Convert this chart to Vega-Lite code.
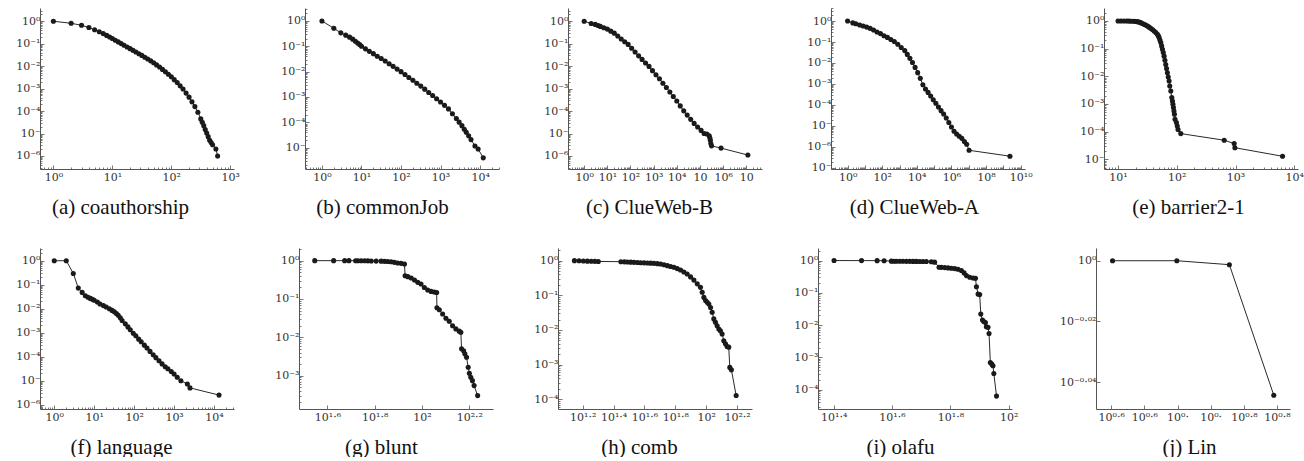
{
"$schema":"https://vega.github.io/schema/vega-lite/v6.json",
"padding":{"left":0,"top":7,"right":0,"bottom":0},
"background":"white",
"params":[
{"name":"supD","value":{"0":"10⁰","1":"10¹","2":"10²","3":"10³","4":"10⁴","5":"10","6":"10⁶","7":"10","8":"10⁸","9":"10⁹","10":"10¹⁰","-1":"10⁻¹","-2":"10⁻²","-3":"10⁻³","-4":"10⁻⁴","-5":"10⁻","-6":"10⁻⁶","-7":"10⁻"}},
{"name":"supF","value":{"1.2":"10¹·²","1.4":"10¹·⁴","1.6":"10¹·⁶","1.8":"10¹·⁸","2":"10²","2.2":"10²·²","0.6":"10⁰·⁶","0.65":"10⁰·⁶","0.7":"10⁰·","0.75":"10⁰·","0.8":"10⁰·⁸","0.85":"10⁰·⁸","0":"10⁰","-0.02":"10⁻⁰·⁰²","-0.04":"10⁻⁰·⁰⁴"}}
],
"config":{
"view":{"stroke":null},
"axis":{"grid":false,"domainColor":"#555","domainWidth":1,"tickColor":"#555","tickWidth":0.8,"labelFont":"DejaVu Serif","labelFontSize":11,"labelColor":"#333","labelPadding":4,"titleFont":"Liberation Serif","titleFontSize":21,"titleFontWeight":"normal","titleColor":"#111","labelOverlap":false,"labelFlush":false},
"axisX":{"titleY":44,"titleBaseline":"alphabetic","labelPadding":6}
},
"datasets":{
"a":[{"x":1,"y":1},{"x":2,"y":0.813},{"x":3,"y":0.661},{"x":4,"y":0.525},{"x":5,"y":0.417},{"x":6,"y":0.339},{"x":7,"y":0.282},{"x":8,"y":0.234},{"x":9,"y":0.2},{"x":10,"y":0.17},{"x":11.2,"y":0.143},{"x":12.6,"y":0.12},{"x":14.1,"y":0.101},{"x":15.8,"y":0.0851},{"x":17.8,"y":0.0716},{"x":20,"y":0.0603},{"x":22.4,"y":0.0507},{"x":25.1,"y":0.0427},{"x":28.2,"y":0.0359},{"x":31.6,"y":0.0302},{"x":35.5,"y":0.0251},{"x":39.8,"y":0.0209},{"x":44.7,"y":0.0172},{"x":50.1,"y":0.0141},{"x":56.2,"y":0.01135},{"x":63.1,"y":0.00912},{"x":70.8,"y":0.00716},{"x":79.4,"y":0.00562},{"x":89.1,"y":0.00437},{"x":100,"y":0.00339},{"x":112,"y":0.00251},{"x":126,"y":0.00186},{"x":141,"y":0.00133},{"x":158,"y":0.000955},{"x":178,"y":0.000631},{"x":200,"y":0.000417},{"x":224,"y":0.000257},{"x":251,"y":0.000158},{"x":282,"y":8.91e-5},{"x":316,"y":4.47e-5},{"x":335,"y":3.16e-5},{"x":355,"y":2.24e-5},{"x":376,"y":1.51e-5},{"x":398,"y":1.05e-5},{"x":422,"y":7.24e-6},{"x":447,"y":5.01e-6},{"x":473,"y":3.98e-6},{"x":501,"y":3.16e-6},{"x":570,"y":2.04e-6},{"x":610,"y":1e-6}],
"b":[{"x":1,"y":1},{"x":2,"y":0.513},{"x":3,"y":0.339},{"x":4,"y":0.275},{"x":5,"y":0.229},{"x":6,"y":0.191},{"x":7,"y":0.158},{"x":8,"y":0.135},{"x":9,"y":0.117},{"x":10,"y":0.1},{"x":12.6,"y":0.0794},{"x":15.8,"y":0.0631},{"x":20,"y":0.0513},{"x":25.1,"y":0.0407},{"x":31.6,"y":0.0331},{"x":39.8,"y":0.0263},{"x":50.1,"y":0.0204},{"x":63.1,"y":0.0162},{"x":79.4,"y":0.0126},{"x":100,"y":0.01},{"x":126,"y":0.00776},{"x":158,"y":0.00589},{"x":200,"y":0.00457},{"x":251,"y":0.00347},{"x":316,"y":0.00269},{"x":398,"y":0.00204},{"x":501,"y":0.00151},{"x":631,"y":0.00115},{"x":794,"y":0.000851},{"x":1000,"y":0.000631},{"x":1259,"y":0.000468},{"x":1585,"y":0.000339},{"x":1995,"y":0.000219},{"x":2512,"y":0.000141},{"x":2951,"y":0.000102},{"x":3467,"y":7.41e-5},{"x":3981,"y":5.37e-5},{"x":4467,"y":4.07e-5},{"x":5129,"y":2.95e-5},{"x":5888,"y":2.09e-5},{"x":7413,"y":1.17e-5},{"x":8913,"y":8.91e-6},{"x":12023,"y":3.98e-6}],
"c":[{"x":1,"y":1},{"x":2,"y":0.794},{"x":3,"y":0.724},{"x":4,"y":0.646},{"x":5,"y":0.589},{"x":7.08,"y":0.513},{"x":10,"y":0.447},{"x":14.1,"y":0.363},{"x":20,"y":0.295},{"x":28.2,"y":0.219},{"x":39.8,"y":0.162},{"x":56.2,"y":0.123},{"x":79.4,"y":0.0933},{"x":112,"y":0.0631},{"x":158,"y":0.0427},{"x":224,"y":0.0288},{"x":316,"y":0.02},{"x":447,"y":0.0138},{"x":631,"y":0.00977},{"x":891,"y":0.00631},{"x":1259,"y":0.00417},{"x":1778,"y":0.00275},{"x":2512,"y":0.00174},{"x":3548,"y":0.00112},{"x":5012,"y":0.000708},{"x":7079,"y":0.000447},{"x":10000,"y":0.000282},{"x":14125,"y":0.00017},{"x":19953,"y":0.000102},{"x":28184,"y":6.61e-5},{"x":39811,"y":4.27e-5},{"x":56234,"y":2.82e-5},{"x":79433,"y":1.95e-5},{"x":112202,"y":1.38e-5},{"x":151356,"y":1e-5},{"x":199526,"y":9.55e-6},{"x":251189,"y":7.94e-6},{"x":269153,"y":6.31e-6},{"x":281838,"y":5.01e-6},{"x":295121,"y":3.55e-6},{"x":316228,"y":2.82e-6},{"x":812831,"y":2.24e-6},{"x":11748976,"y":1.1e-6}],
"d":[{"x":1,"y":1},{"x":2,"y":0.813},{"x":3,"y":0.741},{"x":5,"y":0.646},{"x":7.94,"y":0.575},{"x":12.6,"y":0.513},{"x":19.95,"y":0.447},{"x":31.6,"y":0.372},{"x":50.1,"y":0.302},{"x":79.4,"y":0.251},{"x":126,"y":0.2},{"x":200,"y":0.166},{"x":316,"y":0.132},{"x":501,"y":0.105},{"x":794,"y":0.0776},{"x":1259,"y":0.055},{"x":1995,"y":0.0389},{"x":2818,"y":0.0257},{"x":3981,"y":0.0166},{"x":5623,"y":0.0105},{"x":7943,"y":0.00617},{"x":11220,"y":0.00347},{"x":15849,"y":0.00186},{"x":22387,"y":0.000912},{"x":31623,"y":0.000575},{"x":44668,"y":0.000398},{"x":63096,"y":0.000269},{"x":89125,"y":0.000178},{"x":125893,"y":0.00012},{"x":177828,"y":7.94e-5},{"x":251189,"y":5.37e-5},{"x":354813,"y":3.72e-5},{"x":501187,"y":2.4e-5},{"x":707946,"y":1.45e-5},{"x":1000000,"y":8.91e-6},{"x":1412538,"y":5.62e-6},{"x":1995262,"y":4.17e-6},{"x":2818383,"y":3.24e-6},{"x":3981072,"y":2.57e-6},{"x":5623413,"y":1.82e-6},{"x":7585776,"y":1.35e-6},{"x":10471285,"y":6.92e-7},{"x":2398833000,"y":3.63e-7}],
"e":[{"x":10,"y":1},{"x":11.2,"y":0.999},{"x":12.6,"y":0.998},{"x":14.1,"y":0.995},{"x":15.4,"y":0.99},{"x":17,"y":0.985},{"x":18.8,"y":0.975},{"x":20,"y":0.965},{"x":21.4,"y":0.946},{"x":23,"y":0.91},{"x":24.4,"y":0.87},{"x":26,"y":0.815},{"x":27.7,"y":0.758},{"x":29.6,"y":0.71},{"x":31.6,"y":0.66},{"x":33.8,"y":0.6},{"x":36,"y":0.543},{"x":38.5,"y":0.49},{"x":41.1,"y":0.436},{"x":44,"y":0.38},{"x":46.8,"y":0.331},{"x":48.5,"y":0.29},{"x":50,"y":0.251},{"x":51.7,"y":0.205},{"x":53.4,"y":0.166},{"x":55.2,"y":0.126},{"x":57,"y":0.0955},{"x":58.9,"y":0.072},{"x":60.8,"y":0.0537},{"x":62.8,"y":0.038},{"x":64.9,"y":0.0269},{"x":67,"y":0.019},{"x":69.2,"y":0.0135},{"x":71.6,"y":0.0095},{"x":74,"y":0.00676},{"x":75.9,"y":0.00447},{"x":79.1,"y":0.00295},{"x":82.2,"y":0.0017},{"x":84.4,"y":0.00129},{"x":86,"y":0.00098},{"x":87.7,"y":0.000741},{"x":89.5,"y":0.00056},{"x":91.2,"y":0.000427},{"x":93.3,"y":0.000282},{"x":98.6,"y":0.000214},{"x":102,"y":0.00016},{"x":105,"y":0.00012},{"x":117,"y":8.51e-5},{"x":641,"y":4.9e-5},{"x":948,"y":3.72e-5},{"x":975,"y":2.63e-5},{"x":6310,"y":1.29e-5}],
"f":[{"x":1,"y":1},{"x":2,"y":1},{"x":3,"y":0.295},{"x":4,"y":0.0724},{"x":5,"y":0.0479},{"x":6,"y":0.0347},{"x":7,"y":0.0302},{"x":8,"y":0.0269},{"x":9,"y":0.0245},{"x":10,"y":0.0224},{"x":12,"y":0.0191},{"x":14,"y":0.0158},{"x":17,"y":0.0135},{"x":20,"y":0.0117},{"x":24,"y":0.01},{"x":28,"y":0.00851},{"x":32,"y":0.00741},{"x":36,"y":0.00631},{"x":40,"y":0.00537},{"x":45,"y":0.00417},{"x":50,"y":0.00324},{"x":60,"y":0.00234},{"x":70,"y":0.00174},{"x":80,"y":0.00132},{"x":95,"y":0.000955},{"x":110,"y":0.000741},{"x":130,"y":0.000537},{"x":150,"y":0.000417},{"x":180,"y":0.000302},{"x":210,"y":0.000229},{"x":250,"y":0.000166},{"x":300,"y":0.00012},{"x":350,"y":9.12e-5},{"x":420,"y":6.76e-5},{"x":500,"y":5.01e-5},{"x":600,"y":3.8e-5},{"x":700,"y":3.16e-5},{"x":850,"y":2.4e-5},{"x":1000,"y":1.91e-5},{"x":1200,"y":1.38e-5},{"x":1480,"y":1e-5},{"x":2150,"y":7.24e-6},{"x":2500,"y":5.01e-6},{"x":13335,"y":2.51e-6}],
"g":[{"x":35.2,"y":1},{"x":42.3,"y":1},{"x":47.1,"y":1},{"x":49.1,"y":1},{"x":52.4,"y":0.998},{"x":53.6,"y":0.997},{"x":55.3,"y":0.995},{"x":57.2,"y":0.993},{"x":59,"y":0.99},{"x":61,"y":0.98},{"x":64,"y":0.975},{"x":67.2,"y":0.97},{"x":69.4,"y":0.96},{"x":71.6,"y":0.95},{"x":74,"y":0.94},{"x":76.4,"y":0.905},{"x":78.9,"y":0.87},{"x":81.6,"y":0.85},{"x":84.3,"y":0.82},{"x":84.8,"y":0.405},{"x":87.1,"y":0.383},{"x":90,"y":0.353},{"x":92.9,"y":0.313},{"x":95.9,"y":0.272},{"x":99,"y":0.246},{"x":102.3,"y":0.2},{"x":105.7,"y":0.172},{"x":109.2,"y":0.158},{"x":112.7,"y":0.152},{"x":115.3,"y":0.148},{"x":115.6,"y":0.0589},{"x":118.3,"y":0.0525},{"x":122.2,"y":0.0407},{"x":126.2,"y":0.0316},{"x":130.3,"y":0.0263},{"x":134.6,"y":0.02},{"x":139,"y":0.0166},{"x":143.6,"y":0.0145},{"x":145.9,"y":0.0135},{"x":146.9,"y":0.00501},{"x":149.9,"y":0.00447},{"x":151.7,"y":0.00372},{"x":154.2,"y":0.00302},{"x":156.7,"y":0.00166},{"x":158.5,"y":0.00115},{"x":160.7,"y":0.000912},{"x":163.3,"y":0.000741},{"x":166,"y":0.00055},{"x":171.8,"y":0.000302}],
"h":[{"x":14,"y":1},{"x":15,"y":0.99},{"x":16,"y":0.98},{"x":17,"y":0.97},{"x":18,"y":0.96},{"x":19,"y":0.955},{"x":20,"y":0.95},{"x":28,"y":0.935},{"x":29.5,"y":0.925},{"x":30.9,"y":0.915},{"x":32.5,"y":0.905},{"x":34.1,"y":0.895},{"x":35.9,"y":0.885},{"x":37.7,"y":0.875},{"x":39.6,"y":0.866},{"x":41.6,"y":0.857},{"x":43.7,"y":0.848},{"x":45.9,"y":0.838},{"x":48.3,"y":0.82},{"x":50.7,"y":0.8},{"x":53.3,"y":0.76},{"x":56,"y":0.718},{"x":58.8,"y":0.68},{"x":61.8,"y":0.645},{"x":64.9,"y":0.59},{"x":68.2,"y":0.537},{"x":71.7,"y":0.47},{"x":75.3,"y":0.412},{"x":79.2,"y":0.34},{"x":83.2,"y":0.275},{"x":87.5,"y":0.214},{"x":91.8,"y":0.17},{"x":94.2,"y":0.123},{"x":96.6,"y":0.0871},{"x":99.1,"y":0.0708},{"x":101.5,"y":0.063},{"x":104,"y":0.0562},{"x":106.7,"y":0.0447},{"x":109.3,"y":0.0324},{"x":112,"y":0.0209},{"x":114.8,"y":0.0166},{"x":117.7,"y":0.0133},{"x":120.7,"y":0.0107},{"x":123.6,"y":0.00955},{"x":126.8,"y":0.00767},{"x":130,"y":0.0049},{"x":133.3,"y":0.00398},{"x":136.5,"y":0.00335},{"x":140,"y":0.0032},{"x":142.2,"y":0.000832},{"x":145.6,"y":0.000708},{"x":156.3,"y":0.000129}],
"i":[{"x":25.2,"y":1},{"x":31.3,"y":0.997},{"x":35.4,"y":0.993},{"x":37.4,"y":0.988},{"x":39.6,"y":0.96},{"x":40.4,"y":0.955},{"x":41.2,"y":0.952},{"x":42.3,"y":0.95},{"x":43.4,"y":0.948},{"x":44.6,"y":0.946},{"x":45.8,"y":0.944},{"x":47,"y":0.942},{"x":48.2,"y":0.94},{"x":49.5,"y":0.938},{"x":50.8,"y":0.935},{"x":52.2,"y":0.93},{"x":54.3,"y":0.92},{"x":55.7,"y":0.891},{"x":57.7,"y":0.621},{"x":58.8,"y":0.615},{"x":60.4,"y":0.606},{"x":62,"y":0.592},{"x":63.6,"y":0.578},{"x":65.3,"y":0.564},{"x":67,"y":0.537},{"x":68.8,"y":0.49},{"x":70.3,"y":0.414},{"x":71.6,"y":0.342},{"x":73.5,"y":0.303},{"x":75.5,"y":0.289},{"x":76.9,"y":0.282},{"x":77.5,"y":0.155},{"x":78.5,"y":0.0912},{"x":79.5,"y":0.088},{"x":80.2,"y":0.0219},{"x":81.3,"y":0.0143},{"x":82.1,"y":0.0129},{"x":83.2,"y":0.012},{"x":83.8,"y":0.00891},{"x":84.9,"y":0.00851},{"x":85.6,"y":0.0055},{"x":86.5,"y":0.000692},{"x":87.5,"y":0.000617},{"x":88.3,"y":0.00055},{"x":88.9,"y":0.000316},{"x":90.8,"y":6.31e-5}],
"j":[{"x":4,"y":1},{"x":5,"y":1},{"x":6,"y":0.997},{"x":7,"y":0.903}]
},
"vconcat":[
{"hconcat":[
{"width":194,"height":161,"data":{"name":"a"},
"encoding":{
"x":{"field":"x","type":"quantitative","scale":{"type":"log","domain":[0.593,1156],"nice":false},"axis":{"title":"(a) coauthorship","titleX":80,"tickCount":20,"labelOverlap":false,"labelExpr":"abs(log(datum.value)/LN10-round(log(datum.value)/LN10))<0.001?supD[''+round(log(datum.value)/LN10)]:''","labelFontSize":{"condition":{"test":"abs(log(datum.value)/LN10-round(log(datum.value)/LN10))<0.001","value":11},"value":0},"tickSize":{"condition":{"test":"abs(log(datum.value)/LN10-round(log(datum.value)/LN10))<0.001","value":-4},"value":-2}}},
"y":{"field":"y","type":"quantitative","scale":{"type":"log","domain":[2.63e-7,3.89],"nice":false},"axis":{"title":null,"minExtent":40,"maxExtent":40,"tickCount":20,"labelOverlap":false,"labelExpr":"abs(log(datum.value)/LN10-round(log(datum.value)/LN10))<0.001?supD[''+round(log(datum.value)/LN10)]:''","labelFontSize":{"condition":{"test":"abs(log(datum.value)/LN10-round(log(datum.value)/LN10))<0.001","value":11},"value":0},"tickSize":{"condition":{"test":"abs(log(datum.value)/LN10-round(log(datum.value)/LN10))<0.001","value":-4},"value":-2}}}},
"layer":[{"mark":{"type":"line","color":"#111","strokeWidth":0.9}},{"mark":{"type":"circle","size":26,"color":"#1a1a1a","opacity":1}}]},
{"width":194,"height":161,"data":{"name":"b"},
"encoding":{
"x":{"field":"x","type":"quantitative","scale":{"type":"log","domain":[0.373,30061],"nice":false},"axis":{"title":"(b) commonJob","titleX":77,"tickCount":20,"labelOverlap":false,"labelExpr":"abs(log(datum.value)/LN10-round(log(datum.value)/LN10))<0.001?supD[''+round(log(datum.value)/LN10)]:''","labelFontSize":{"condition":{"test":"abs(log(datum.value)/LN10-round(log(datum.value)/LN10))<0.001","value":11},"value":0},"tickSize":{"condition":{"test":"abs(log(datum.value)/LN10-round(log(datum.value)/LN10))<0.001","value":-4},"value":-2}}},
"y":{"field":"y","type":"quantitative","scale":{"type":"log","domain":[1.445e-6,3.24],"nice":false},"axis":{"title":null,"minExtent":40,"maxExtent":40,"tickCount":20,"labelOverlap":false,"labelExpr":"abs(log(datum.value)/LN10-round(log(datum.value)/LN10))<0.001?supD[''+round(log(datum.value)/LN10)]:''","labelFontSize":{"condition":{"test":"abs(log(datum.value)/LN10-round(log(datum.value)/LN10))<0.001","value":11},"value":0},"tickSize":{"condition":{"test":"abs(log(datum.value)/LN10-round(log(datum.value)/LN10))<0.001","value":-4},"value":-2}}}},
"layer":[{"mark":{"type":"line","color":"#111","strokeWidth":0.9}},{"mark":{"type":"circle","size":26,"color":"#1a1a1a","opacity":1}}]},
{"width":194,"height":161,"data":{"name":"c"},
"encoding":{
"x":{"field":"x","type":"quantitative","scale":{"type":"log","domain":[0.2,4.79e7],"nice":false},"axis":{"title":"(c) ClueWeb-B","titleX":81,"tickCount":20,"labelOverlap":false,"labelExpr":"abs(log(datum.value)/LN10-round(log(datum.value)/LN10))<0.001?supD[''+round(log(datum.value)/LN10)]:''","labelFontSize":{"condition":{"test":"abs(log(datum.value)/LN10-round(log(datum.value)/LN10))<0.001","value":11},"value":0},"tickSize":{"condition":{"test":"abs(log(datum.value)/LN10-round(log(datum.value)/LN10))<0.001","value":-4},"value":-2}}},
"y":{"field":"y","type":"quantitative","scale":{"type":"log","domain":[2.63e-7,3.89],"nice":false},"axis":{"title":null,"minExtent":43,"maxExtent":43,"tickCount":20,"labelOverlap":false,"labelExpr":"abs(log(datum.value)/LN10-round(log(datum.value)/LN10))<0.001?supD[''+round(log(datum.value)/LN10)]:''","labelFontSize":{"condition":{"test":"abs(log(datum.value)/LN10-round(log(datum.value)/LN10))<0.001","value":11},"value":0},"tickSize":{"condition":{"test":"abs(log(datum.value)/LN10-round(log(datum.value)/LN10))<0.001","value":-4},"value":-2}}}},
"layer":[{"mark":{"type":"line","color":"#111","strokeWidth":0.9}},{"mark":{"type":"circle","size":26,"color":"#1a1a1a","opacity":1}}]},
{"width":194,"height":161,"data":{"name":"d"},
"encoding":{
"x":{"field":"x","type":"quantitative","scale":{"type":"log","domain":[0.11,1.78e10],"nice":false},"axis":{"title":"(d) ClueWeb-A","titleX":83,"tickCount":20,"labelOverlap":false,"labelExpr":"abs(log(datum.value)/LN10-round(log(datum.value)/LN10))<0.001&&round(log(datum.value)/LN10)%2==0?supD[''+round(log(datum.value)/LN10)]:''","labelFontSize":{"condition":{"test":"abs(log(datum.value)/LN10-round(log(datum.value)/LN10))<0.001","value":11},"value":0},"tickSize":{"condition":{"test":"abs(log(datum.value)/LN10-round(log(datum.value)/LN10))<0.001","value":-4},"value":-2}}},
"y":{"field":"y","type":"quantitative","scale":{"type":"log","domain":[8.9e-8,4.17],"nice":false},"axis":{"title":null,"minExtent":44,"maxExtent":44,"tickCount":20,"labelOverlap":false,"labelExpr":"abs(log(datum.value)/LN10-round(log(datum.value)/LN10))<0.001?supD[''+round(log(datum.value)/LN10)]:''","labelFontSize":{"condition":{"test":"abs(log(datum.value)/LN10-round(log(datum.value)/LN10))<0.001","value":11},"value":0},"tickSize":{"condition":{"test":"abs(log(datum.value)/LN10-round(log(datum.value)/LN10))<0.001","value":-4},"value":-2}}}},
"layer":[{"mark":{"type":"line","color":"#111","strokeWidth":0.9}},{"mark":{"type":"circle","size":26,"color":"#1a1a1a","opacity":1}}]},
{"width":194,"height":161,"data":{"name":"e"},
"encoding":{
"x":{"field":"x","type":"quantitative","scale":{"type":"log","domain":[5.77,11561],"nice":false},"axis":{"title":"(e) barrier2-1","titleX":84,"tickCount":20,"labelOverlap":false,"labelExpr":"abs(log(datum.value)/LN10-round(log(datum.value)/LN10))<0.001?supD[''+round(log(datum.value)/LN10)]:''","labelFontSize":{"condition":{"test":"abs(log(datum.value)/LN10-round(log(datum.value)/LN10))<0.001","value":11},"value":0},"tickSize":{"condition":{"test":"abs(log(datum.value)/LN10-round(log(datum.value)/LN10))<0.001","value":-4},"value":-2}}},
"y":{"field":"y","type":"quantitative","scale":{"type":"log","domain":[4.47e-6,2.95],"nice":false},"axis":{"title":null,"minExtent":46,"maxExtent":46,"tickCount":20,"labelOverlap":false,"labelExpr":"abs(log(datum.value)/LN10-round(log(datum.value)/LN10))<0.001?supD[''+round(log(datum.value)/LN10)]:''","labelFontSize":{"condition":{"test":"abs(log(datum.value)/LN10-round(log(datum.value)/LN10))<0.001","value":11},"value":0},"tickSize":{"condition":{"test":"abs(log(datum.value)/LN10-round(log(datum.value)/LN10))<0.001","value":-4},"value":-2}}}},
"layer":[{"mark":{"type":"line","color":"#111","strokeWidth":0.9}},{"mark":{"type":"circle","size":26,"color":"#1a1a1a","opacity":1}}]}
],"spacing":25},
{"hconcat":[
{"width":194,"height":161,"data":{"name":"f"},
"encoding":{
"x":{"field":"x","type":"quantitative","scale":{"type":"log","domain":[0.44,31623],"nice":false},"axis":{"title":"(f) language","titleX":81,"tickCount":20,"labelOverlap":false,"labelExpr":"abs(log(datum.value)/LN10-round(log(datum.value)/LN10))<0.001?supD[''+round(log(datum.value)/LN10)]:''","labelFontSize":{"condition":{"test":"abs(log(datum.value)/LN10-round(log(datum.value)/LN10))<0.001","value":11},"value":0},"tickSize":{"condition":{"test":"abs(log(datum.value)/LN10-round(log(datum.value)/LN10))<0.001","value":-4},"value":-2}}},
"y":{"field":"y","type":"quantitative","scale":{"type":"log","domain":[6.6e-7,3.39],"nice":false},"axis":{"title":null,"minExtent":39,"maxExtent":39,"tickCount":20,"labelOverlap":false,"labelExpr":"abs(log(datum.value)/LN10-round(log(datum.value)/LN10))<0.001?supD[''+round(log(datum.value)/LN10)]:''","labelFontSize":{"condition":{"test":"abs(log(datum.value)/LN10-round(log(datum.value)/LN10))<0.001","value":11},"value":0},"tickSize":{"condition":{"test":"abs(log(datum.value)/LN10-round(log(datum.value)/LN10))<0.001","value":-4},"value":-2}}}},
"layer":[{"mark":{"type":"line","color":"#111","strokeWidth":0.9}},{"mark":{"type":"circle","size":26,"color":"#1a1a1a","opacity":1}}]},
{"width":194,"height":161,"data":{"name":"g"},
"encoding":{
"x":{"field":"x","type":"quantitative","scale":{"type":"log","domain":[30.2,199.5],"nice":false},"axis":{"title":"(g) blunt","titleX":82,"values":[39.81,63.1,100,158.49],"labelOverlap":false,"labelExpr":"supF[''+round(log(datum.value)/LN10*100)/100]||''","tickSize":-4}},
"y":{"field":"y","type":"quantitative","scale":{"type":"log","domain":[1.35e-4,2.14],"nice":false},"axis":{"title":null,"minExtent":40,"maxExtent":40,"tickCount":20,"labelOverlap":false,"labelExpr":"abs(log(datum.value)/LN10-round(log(datum.value)/LN10))<0.001?supD[''+round(log(datum.value)/LN10)]:''","labelFontSize":{"condition":{"test":"abs(log(datum.value)/LN10-round(log(datum.value)/LN10))<0.001","value":11},"value":0},"tickSize":{"condition":{"test":"abs(log(datum.value)/LN10-round(log(datum.value)/LN10))<0.001","value":-4},"value":-2}}}},
"layer":[{"mark":{"type":"line","color":"#111","strokeWidth":0.9}},{"mark":{"type":"circle","size":26,"color":"#1a1a1a","opacity":1}}]},
{"width":194,"height":161,"data":{"name":"h"},
"encoding":{
"x":{"field":"x","type":"quantitative","scale":{"type":"log","domain":[10.96,198],"nice":false},"axis":{"title":"(h) comb","titleX":81,"values":[15.85,25.12,39.81,63.1,100,158.49],"labelOverlap":false,"labelExpr":"supF[''+round(log(datum.value)/LN10*100)/100]||''","tickSize":-4}},
"y":{"field":"y","type":"quantitative","scale":{"type":"log","domain":[5.25e-5,2.32],"nice":false},"axis":{"title":null,"minExtent":40,"maxExtent":40,"tickCount":20,"labelOverlap":false,"labelExpr":"abs(log(datum.value)/LN10-round(log(datum.value)/LN10))<0.001?supD[''+round(log(datum.value)/LN10)]:''","labelFontSize":{"condition":{"test":"abs(log(datum.value)/LN10-round(log(datum.value)/LN10))<0.001","value":11},"value":0},"tickSize":{"condition":{"test":"abs(log(datum.value)/LN10-round(log(datum.value)/LN10))<0.001","value":-4},"value":-2}}}},
"layer":[{"mark":{"type":"line","color":"#111","strokeWidth":0.9}},{"mark":{"type":"circle","size":26,"color":"#1a1a1a","opacity":1}}]},
{"width":194,"height":161,"data":{"name":"i"},
"encoding":{
"x":{"field":"x","type":"quantitative","scale":{"type":"log","domain":[22.2,102.6],"nice":false},"axis":{"title":"(i) olafu","titleX":82,"values":[25.12,39.81,63.1,100],"labelOverlap":false,"labelExpr":"supF[''+round(log(datum.value)/LN10*100)/100]||''","tickSize":-4}},
"y":{"field":"y","type":"quantitative","scale":{"type":"log","domain":[2.51e-5,2.45],"nice":false},"axis":{"title":null,"minExtent":41,"maxExtent":41,"tickCount":20,"labelOverlap":false,"labelExpr":"abs(log(datum.value)/LN10-round(log(datum.value)/LN10))<0.001?supD[''+round(log(datum.value)/LN10)]:''","labelFontSize":{"condition":{"test":"abs(log(datum.value)/LN10-round(log(datum.value)/LN10))<0.001","value":11},"value":0},"tickSize":{"condition":{"test":"abs(log(datum.value)/LN10-round(log(datum.value)/LN10))<0.001","value":-4},"value":-2}}}},
"layer":[{"mark":{"type":"line","color":"#111","strokeWidth":0.9}},{"mark":{"type":"circle","size":26,"color":"#1a1a1a","opacity":1}}]},
{"width":194,"height":161,"data":{"name":"j"},
"encoding":{
"x":{"field":"x","type":"quantitative","scale":{"type":"log","domain":[3.777,7.405],"nice":false},"axis":{"title":"(j) Lin","titleX":93,"values":[3.981,4.467,5.012,5.623,6.31,7.079],"labelOverlap":false,"labelExpr":"supF[''+round(log(datum.value)/LN10*100)/100]||''","tickSize":-4}},
"y":{"field":"y","type":"quantitative","scale":{"type":"log","domain":[0.8936,1.0097],"nice":false},"axis":{"title":null,"minExtent":53,"maxExtent":53,"values":[0.912,0.955,1],"labelOverlap":false,"labelExpr":"supF[''+round(log(datum.value)/LN10*100)/100]||''","tickSize":-4}}},
"layer":[{"mark":{"type":"line","color":"#111","strokeWidth":0.9}},{"mark":{"type":"circle","size":26,"color":"#1a1a1a","opacity":1}}]}
],"spacing":25}
],"spacing":31}
